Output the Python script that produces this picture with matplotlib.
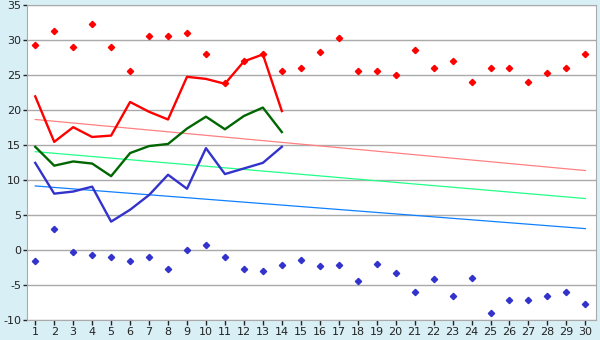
import matplotlib.pyplot as plt

plt.rcParams["axes.unicode_minus"] = False

# days of the month
days = list(range(1, 31))
days_so_far = list(range(1, 15))

# record highs / lows per day (diamonds)
record_high = [29.3, 31.4, 29.0, 32.4, 29.0, 25.6, 30.6, 30.7, 31.0, 28.0,
               23.9, 27.1, 28.0, 25.6, 26.0, 28.4, 30.3, 25.7, 25.6, 25.0,
               28.6, 26.1, 27.0, 24.1, 26.0, 26.0, 24.0, 25.3, 26.1, 28.0]
record_low = [-1.5, 3.0, -0.3, -0.6, -1.0, -1.5, -1.0, -2.7, 0.0, 0.7,
              -1.0, -2.7, -3.0, -2.1, -1.4, -2.3, -2.1, -4.4, -1.9, -3.3,
              -6.0, -4.1, -6.6, -3.9, -8.9, -7.1, -7.1, -6.6, -6.0, -7.7]

# this month so far
max_temp = [22.0, 15.5, 17.6, 16.2, 16.4, 21.2, 19.8, 18.7, 24.8, 24.5,
            23.8, 27.0, 28.0, 19.9]
mean_temp = [14.8, 12.1, 12.7, 12.4, 10.6, 13.9, 14.9, 15.2, 17.4, 19.1,
             17.3, 19.2, 20.4, 16.9]
min_temp = [12.5, 8.1, 8.4, 9.1, 4.1, 5.8, 7.9, 10.8, 8.8, 14.6,
            10.9, 11.7, 12.5, 14.8]

# long-term averages (start of month, end of month)
avg_ends = [1, 30]
avg_max = [18.7, 11.4]
avg_mean = [14.1, 7.4]
avg_min = [9.2, 3.1]

fig = plt.figure(figsize=(6, 3.4), dpi=100, facecolor="#d9eff6")
ax = fig.add_axes([0.0445, 0.058, 0.9485, 0.926])
ax.set_facecolor("white")

ax.plot(avg_ends, avg_max, color="#ff8080", lw=0.9)
ax.plot(avg_ends, avg_mean, color="#22ff88", lw=0.9)
ax.plot(avg_ends, avg_min, color="#1080ff", lw=0.9)

ax.plot(days_so_far, max_temp, color="#ff0000", lw=1.7)
ax.plot(days_so_far, mean_temp, color="#006600", lw=1.7)
ax.plot(days_so_far, min_temp, color="#3333cc", lw=1.7)

ax.plot(days, record_high, ls="none", marker="D", ms=3.2, color="#ff0000")
ax.plot(days, record_low, ls="none", marker="D", ms=3.2, color="#3333cc")

ax.set_xlim(0.55, 30.55)
ax.set_ylim(-10, 35)
ax.set_xticks(days)
ax.set_yticks(range(-10, 36, 5))
ax.grid(axis="y", color="#aaaaaa", lw=1)
ax.set_axisbelow(True)
for s in ax.spines.values():
    s.set_color("#aaaaaa")
ax.tick_params(axis="both", colors="#222222", labelsize=8, length=4,
               width=1, pad=1.5)
ax.tick_params(axis="y", length=3, pad=1)
ax.tick_params(axis="x", length=3.5, pad=1)

fig.savefig("out.png", dpi=100, facecolor=fig.get_facecolor())
